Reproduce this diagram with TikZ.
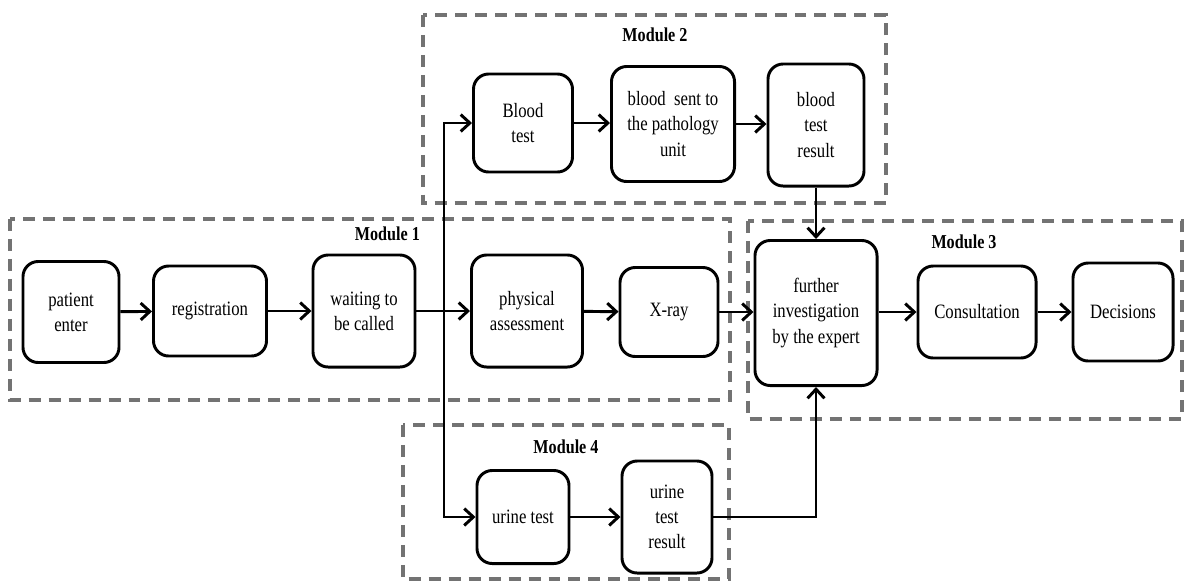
\documentclass[tikz,border=0pt]{standalone}
\usepackage{fontspec}
\setmainfont{Liberation Serif}[FakeStretch=0.82]
\usetikzlibrary{arrows.meta}

\begin{document}
\begin{tikzpicture}[x=0.025cm, y=-0.025cm,
        node font=\fontsize{14.5}{17.8}\selectfont,
        stage/.style={draw, line width=2.1pt, rounded corners=0.38cm, align=center, inner sep=2pt},
        flow/.style={line width=2.1pt, arrows={-Straight Barb[length=6.5pt, width=12pt]}},
        module/.style={draw=black!55, line width=2.4pt, dash pattern=on 8.5pt off 5.7pt},
        modname/.style={font=\fontsize{14}{16}\selectfont\bfseries}]
        \useasboundingbox (0,0) rectangle (1190,581);

        % module frames
        \draw[module] (10,219) rectangle (730,400);
        \draw[module] (423,15) rectangle (886,203);
        \draw[module] (748,221) rectangle (1182,419);
        \draw[module] (403,425) rectangle (729,579);
        \node[modname, anchor=east] (m1) at (427,234) {Module 1};
        \node[modname] (m2) at (655,35) {Module 2};
        \node[modname] (m3) at (964,242) {Module 3};
        \node[modname] (m4) at (566,447) {Module 4};

        % main line
        \node[stage, minimum width=2.4cm, minimum height=2.525cm] (patient) at (71,312) {patient\\enter};
        \node[stage, minimum width=2.825cm, minimum height=2.25cm] (regist) at (210,311) {registration};
        \node[stage, minimum width=2.55cm, minimum height=2.8cm] (waiting) at (364,311) {waiting to\\be called};
        \node[stage, minimum width=2.775cm, minimum height=2.8cm] (physical) at (527,311) {physical\\assessment};
        \node[stage, minimum width=2.45cm, minimum height=2.225cm] (xray) at (669,312) {X-ray};
        \node[stage, minimum width=3.05cm, minimum height=3.625cm] (further) at (816,313) {further\\investigation\\by the expert};
        \node[stage, minimum width=2.95cm, minimum height=2.3cm] (consult) at (977,312) {Consultation};
        \node[stage, minimum width=2.5cm, minimum height=2.45cm] (decide) at (1123,312) {Decisions};

        % blood branch
        \node[stage, minimum width=2.475cm, minimum height=2.45cm] (blood) at (523,123) {Blood\\test};
        \node[stage, minimum width=3.075cm, minimum height=2.875cm] (sent) at (673,124) {blood\ \ sent to\\the pathology\\unit};
        \node[stage, minimum width=2.4cm, minimum height=3.05cm] (bresult) at (816,125) {blood\\test\\result};

        % urine branch
        \node[stage, minimum width=2.3cm, minimum height=2.325cm] (urine) at (523,517) {urine test};
        \node[stage, minimum width=2.25cm, minimum height=2.8cm] (uresult) at (667,517) {urine\\test\\result};

        \coordinate (split) at (444,311);

        \draw[flow] (patient) -- (regist);
        \draw[flow] (regist) -- (waiting);
        \draw[flow] (waiting) -- (physical);
        \draw[flow] (physical) -- (xray);
        \draw[flow] (xray.east) -- (further.west |- xray.east);
        \draw[flow] (further.east |- consult.west) -- (consult);
        \draw[flow] (consult) -- (decide);
        \draw[flow] (split) |- (blood.west);
        \draw[flow] (split) |- (urine.west);
        \draw[flow] (blood) -- (blood.east -| sent.west);
        \draw[flow] (sent) -- (sent.east -| bresult.west);
        \draw[flow] (bresult) -- (further);
        \draw[flow] (urine) -- (urine.east -| uresult.west);
        \draw[flow] (uresult.east) -| (further.south);
      \end{tikzpicture}
\end{document}
